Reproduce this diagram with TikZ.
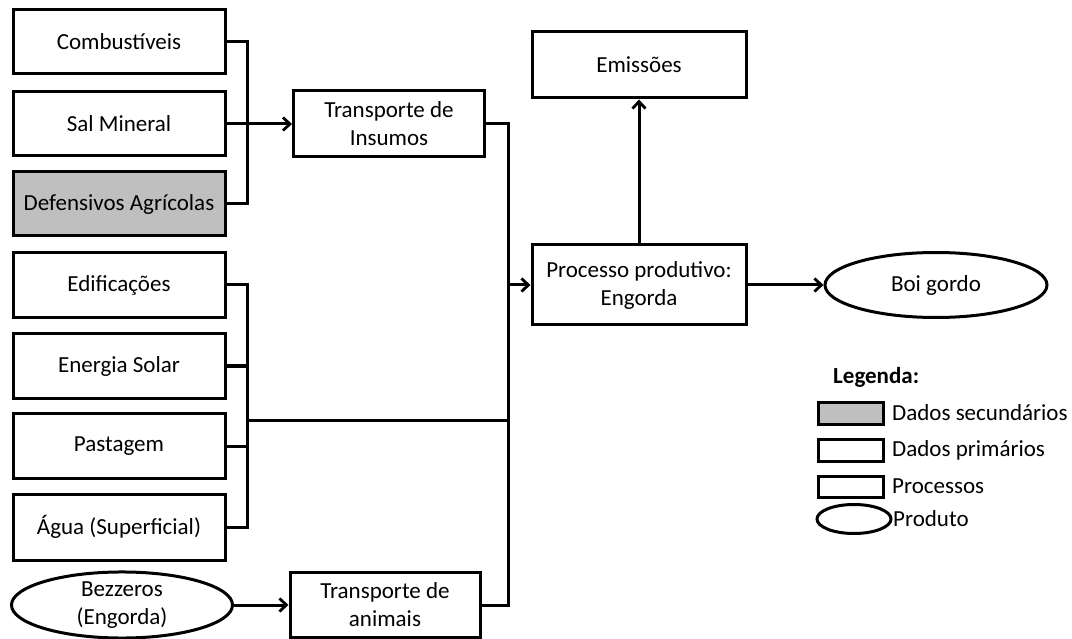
\documentclass[tikz,border=0pt]{standalone}
\usepackage{fontspec}
\setmainfont{Carlito}
\usetikzlibrary{arrows.meta,shapes.geometric}
\begin{document}
\begin{tikzpicture}[x=1pt,y=-1pt,
  every node/.style={font=\fontsize{23}{28}\selectfont, align=center, inner sep=0pt},
  box/.style={draw=black, line width=3pt, fill=white, rectangle, minimum width=#1},
  box/.default=212pt,
  gbox/.style={box, fill=black!25},
  prod/.style={draw=black, line width=3pt, fill=white, ellipse},
  conn/.style={line width=3pt, draw=black},
  arr/.style={conn, -{Straight Barb[length=7pt,width=13pt,line width=2.8pt]}},
  lab/.style={anchor=west, inner sep=0pt}]
\useasboundingbox (0,0) rectangle (1072,639);
% left input boxes
\node[box, minimum height=64pt] (comb) at (119,42) {Combustíveis};
\node[box, minimum height=64pt] (sal) at (119,124) {Sal Mineral};
\node[gbox, minimum height=64pt] (def) at (119,204) {Defensivos Agrícolas};
\node[box, minimum height=65pt] (edif) at (119,285) {Edificações};
\node[box, minimum height=65pt] (ener) at (119,366) {Energia Solar};
\node[box, minimum height=65pt] (past) at (119,446) {Pastagem};
\node[box, minimum height=66pt] (agua) at (119,527) {Água (Superficial)};
\node[prod, minimum width=221pt, minimum height=64pt] (bez) at (122,605) {Bezzeros\\(Engorda)};
% processes
\node[box=191pt, minimum height=66pt] (tins) at (389,124) {Transporte de\\Insumos};
\node[box=190pt, minimum height=65pt] (tani) at (385,605) {Transporte de\\animais};
\node[box=214pt, minimum height=80pt] (proc) at (639,285) {Processo produtivo:\\Engorda};
\node[box=214pt, minimum height=66pt] (emis) at (639,65) {Emissões};
\node[prod, minimum width=222pt, minimum height=65pt] (boi) at (936,285) {Boi gordo};
% junctions
\coordinate (b1) at (247,124);
\coordinate (b2) at (247,420);
\coordinate (j1) at (508,285);
% connectors
\draw[conn] (comb.east) -| (b1) |- (def.east);
\draw[arr] (sal.east) -- (tins.west);
\draw[conn] (edif.east) -| (b2) |- (agua.east);
\draw[conn] (ener.east) -- (ener.east -| b2);
\draw[conn] (past.east) -- (past.east -| b2);
\draw[conn] (b2) -- (b2 -| j1);
\draw[conn] (tins.east) -| (j1);
\draw[conn] (tani.east) -| (j1);
\draw[arr] (j1) -- (proc.west);
\draw[arr] (bez.east) -- (tani.west);
\draw[arr] (proc.north) -- (emis.south);
\draw[arr] (proc.east) -- (boi.west);
% legend
\node[lab, font=\fontsize{23}{28}\selectfont\bfseries] (leg) at (833,377) {Legenda:};
\node[gbox, minimum width=65pt, minimum height=22pt] (l1) at (850.5,413) {};
\node[lab] (t1) at (892,413) {Dados secundários};
\node[box, minimum width=65pt, minimum height=22pt] (l2) at (850.5,450) {};
\node[lab] (t2) at (892,450) {Dados primários};
\node[box, minimum width=65pt, minimum height=21pt] (l3) at (850.5,486.5) {};
\node[lab] (t3) at (892,486.5) {Processos};
\node[prod, minimum width=74pt, minimum height=29pt] (l4) at (854,519) {};
\node[lab] (t4) at (893,519) {Produto};
\end{tikzpicture}
\end{document}
